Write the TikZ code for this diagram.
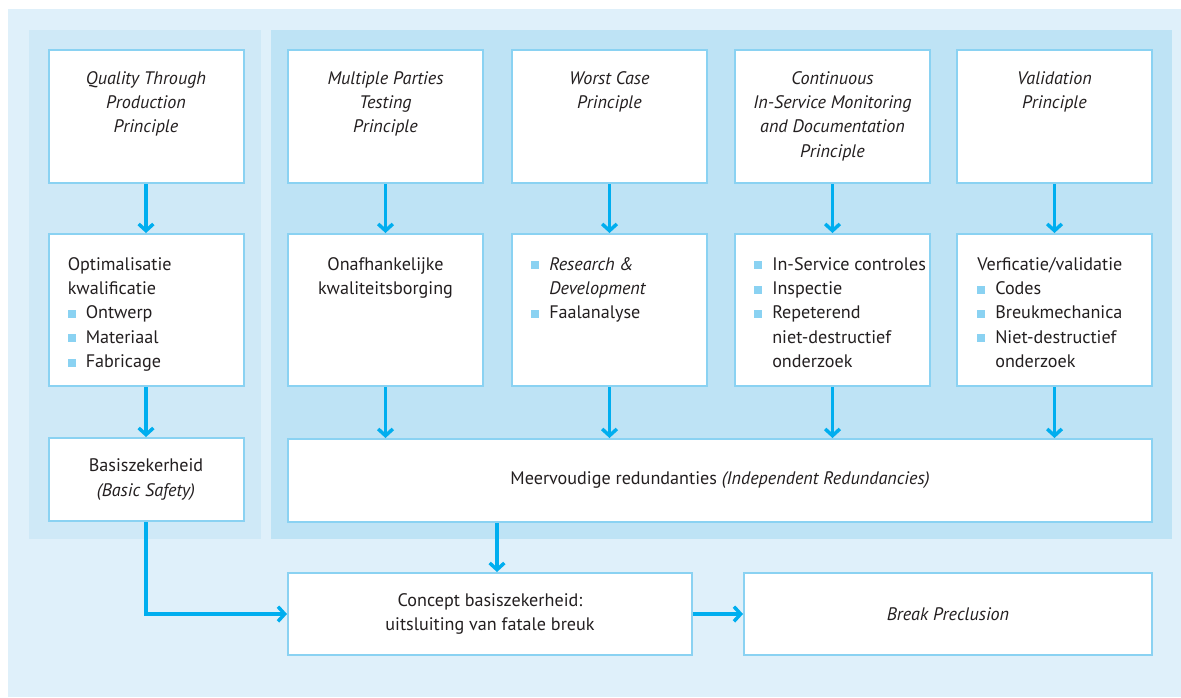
\documentclass[tikz,border=0pt]{standalone}
\usepackage{fontspec}
\setmainfont{PT Sans}
\usetikzlibrary{arrows.meta,positioning}

\definecolor{outerbg}{HTML}{DFF0FA}
\definecolor{leftbg}{HTML}{CFE9F7}
\definecolor{rightbg}{HTML}{BEE3F5}
\definecolor{boxline}{HTML}{8AD2F2}
\definecolor{arrowblue}{HTML}{00AEEF}
\definecolor{textgray}{HTML}{231F20}

\newcommand{\bul}{\makebox[13.5pt][l]{\textcolor{boxline}{\rule[0.8pt]{6pt}{6pt}}}}
\newcommand{\ind}{\hspace*{13.5pt}}

\begin{document}
\begin{tikzpicture}[x=0.75pt, y=-0.75pt,
	box/.style={draw=boxline, fill=white, line width=1.5pt, inner sep=0pt, minimum width=195*0.75pt},
	txt/.style={inner sep=0pt, text=textgray, font=\fontsize{13.6}{18.3}\selectfont},
	arr/.style={draw=arrowblue, line width=2.6pt, -{Straight Barb[length=5pt, width=11pt]}}]
	\useasboundingbox (0,0) rectangle (1181,697);
	
	%Background
	\fill[outerbg] (8,9) rectangle (1181,697);
	\fill[leftbg] (29,30) rectangle (261,539);
	\fill[rightbg] (271,30) rectangle (1172,539);
	
	%Left column
	\def\x{146}
	\node[box, minimum height=133*0.75pt] (q0) at (\x,116.5) {};
	\node[txt, align=center, font=\fontsize{13.6}{18.3}\selectfont\itshape, below=16.5pt of q0.north] (q0text) {Quality Through\\Production\\Principle};
	\node[box, minimum height=152*0.75pt] (m0) at (\x,310) {};
	\node[txt, align=left, anchor=north west, below right=18pt and 15pt of m0.north west] (m0text) {Optimalisatie\\kwalificatie\\\bul Ontwerp\\\bul Materiaal\\\bul Fabricage};
	\node[box, minimum height=83*0.75pt] (b0) at (\x,479.5) {};
	\node[txt, align=center] (b0text) at (b0.center) {Basiszekerheid\\\textit{(Basic Safety)}};
	
	%Column 1
	\def\x{385.5}
	\node[box, minimum height=133*0.75pt] (q1) at (\x,116.5) {};
	\node[txt, align=center, font=\fontsize{13.6}{18.3}\selectfont\itshape, below=16.5pt of q1.north] (q1text) {Multiple Parties\\Testing\\Principle};
	\node[box, minimum height=152*0.75pt] (m1) at (\x,310) {};
	\node[txt, align=center, below=18pt of m1.north] (m1text) {Onafhankelijke\\kwaliteitsborging};
	
	%Column 2
	\def\x{609.5}
	\node[box, minimum height=133*0.75pt] (q2) at (\x,116.5) {};
	\node[txt, align=center, font=\fontsize{13.6}{18.3}\selectfont\itshape, below=16.5pt of q2.north] (q2text) {Worst Case\\Principle};
	\node[box, minimum height=152*0.75pt] (m2) at (\x,310) {};
	\node[txt, align=left, anchor=north west, below right=18pt and 15pt of m2.north west] (m2text) {\bul\textit{Research \&}\\\ind\textit{Development}\\\bul Faalanalyse};
	
	%Column 3
	\def\x{832.5}
	\node[box, minimum height=133*0.75pt] (q3) at (\x,116.5) {};
	\node[txt, align=center, font=\fontsize{13.6}{18.3}\selectfont\itshape, below=16.5pt of q3.north] (q3text) {Continuous\\In-Service Monitoring\\and Documentation\\Principle};
	\node[box, minimum height=152*0.75pt] (m3) at (\x,310) {};
	\node[txt, align=left, anchor=north west, below right=18pt and 15pt of m3.north west] (m3text) {\bul In-Service controles\\\bul Inspectie\\\bul Repeterend\\\ind niet-destructief\\\ind onderzoek};
	
	%Column 4
	\def\x{1054.5}
	\node[box, minimum height=133*0.75pt] (q4) at (\x,116.5) {};
	\node[txt, align=center, font=\fontsize{13.6}{18.3}\selectfont\itshape, below=16.5pt of q4.north] (q4text) {Validation\\Principle};
	\node[box, minimum height=152*0.75pt] (m4) at (\x,310) {};
	\node[txt, align=left, anchor=north west, below right=18pt and 15.75pt of m4.north west] (m4text) {Verficatie/validatie\\\bul Codes\\\bul Breukmechanica\\\bul Niet-destructief\\\ind onderzoek};
	
	%Redundancies and result
	\node[box, minimum width=864*0.75pt, minimum height=83*0.75pt] (red) at (720,480.5) {};
	\node[txt] (redtext) at (red.center) {Meervoudige redundanties \textit{(Independent Redundancies)}};
	\node[box, minimum width=404*0.75pt, minimum height=82*0.75pt] (con) at (490,614) {};
	\node[txt, align=center] (context) at (con.center) {Concept basiszekerheid:\\uitsluiting van fatale breuk};
	\node[box, minimum width=408*0.75pt, minimum height=82*0.75pt] (brk) at (948,614) {};
	\node[txt, font=\fontsize{13.6}{18.3}\selectfont\itshape] (brktext) at (brk.center) {Break Preclusion};
	
	%Arrows
	\foreach \i in {0,...,4}
		\draw[arr] (q\i.south) -- (m\i.north);
	\draw[arr] (m0.south) -- (b0.north);
	\foreach \i in {1,...,4}
		\draw[arr] (m\i.south) -- (m\i.south |- red.north);
	\draw[arr] ([xshift=5.25pt]con.north |- red.south) -- ([xshift=5.25pt]con.north);
	\draw[arr] (b0.south) |- (con.west);
	\draw[arr] (con.east) -- (brk.west);
\end{tikzpicture}
\end{document}
